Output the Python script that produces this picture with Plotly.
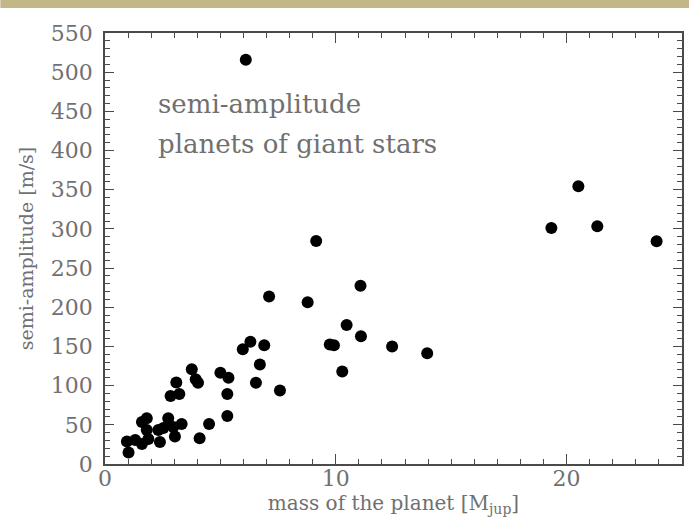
import plotly.graph_objects as go

# planet mass [M_jup]
mass = [0.95, 1.02, 1.31, 1.60, 1.88, 1.60, 1.81, 1.81, 2.31, 2.38,
        2.53, 2.74, 2.96, 3.03, 3.32, 2.84, 3.22, 3.09, 3.76, 3.93,
        4.03, 4.10, 4.51, 5.00, 5.35, 5.30, 5.30, 5.97, 6.30, 6.90,
        6.71, 6.54, 7.58, 6.10, 9.15, 7.11, 8.78, 11.07, 10.47, 11.09,
        9.74, 9.92, 12.44, 13.96, 10.28, 19.34, 20.51, 21.33, 23.90]
# semi-amplitude [m/s]
semi_amp = [28.7, 14.7, 30.6, 25.5, 31.9, 53.6, 58.3, 43.4, 43.4, 28.1,
            45.9, 58.3, 47.2, 35.1, 51.0, 86.8, 89.3, 104.0, 120.9, 108.1,
            103.8, 32.8, 51.0, 116.5, 110.1, 89.3, 61.3, 146.4, 156.0, 151.5,
            127.0, 103.6, 93.8, 516.0, 284.6, 213.8, 206.4, 227.5, 177.4, 163.0,
            152.5, 151.5, 150.0, 141.3, 118.0, 301.2, 354.4, 303.3, 284.2]

x_range = [0, 25]
y_range = [0, 550]
x_ticks = [0, 10, 20]
y_ticks = list(range(0, 551, 50))

W, H = 691, 529
L, R, T, B = 105, 7, 33, 65
pw, ph = W - L - R, H - T - B

FONT = "DejaVu Serif"
TXT = "#707070"
AX = "#4a4a4a"

fig = go.Figure()
fig.add_trace(go.Scatter(
    x=mass, y=semi_amp, mode="markers",
    marker=dict(size=12, color="black", line=dict(width=0)),
    hoverinfo="skip", showlegend=False))

axis_common = dict(
    showgrid=False, zeroline=False, showline=True, linecolor=AX, linewidth=1.5,
    mirror="ticks", ticks="inside", tickcolor=AX, tickwidth=1,
    tickfont=dict(family=FONT, size=22, color=TXT),
)

fig.update_xaxes(range=x_range, tickmode="array", tickvals=x_ticks,
                 ticklen=10, ticklabelstandoff=-6,
                 minor=dict(ticks="inside", ticklen=5, dtick=1, tickcolor=AX, tickwidth=1),
                 title=dict(text="mass of the planet [M<sub>jup</sub>]",
                            font=dict(family=FONT, size=20, color=TXT), standoff=4),
                 **axis_common)
fig.update_yaxes(range=y_range, tickmode="array", tickvals=y_ticks,
                 ticklen=9, ticklabelstandoff=6,
                 minor=dict(ticks="inside", ticklen=5, dtick=10, tickcolor=AX, tickwidth=1),
                 title=dict(text="semi-amplitude [m/s]",
                            font=dict(family=FONT, size=19, color=TXT), standoff=12),
                 **axis_common)

fig.add_annotation(x=0.0885, y=0.835, xref="paper", yref="paper",
                   xanchor="left", yanchor="middle", showarrow=False,
                   text="semi-amplitude",
                   font=dict(family=FONT, size=26, color=TXT))
fig.add_annotation(x=0.0885, y=0.742, xref="paper", yref="paper",
                   xanchor="left", yanchor="middle", showarrow=False,
                   text="planets of giant stars",
                   font=dict(family=FONT, size=26, color=TXT))

# tan band along the top edge of the page
fig.add_shape(type="rect", xref="paper", yref="paper",
              x0=-L / pw, x1=1 + R / pw, y0=1 + (T - 8) / ph, y1=1 + T / ph,
              fillcolor="#c3b687", line=dict(width=0), layer="below")

fig.update_layout(width=W, height=H, margin=dict(l=L, r=R, t=T, b=B),
                  paper_bgcolor="white", plot_bgcolor="white")

fig.write_html("out.html")
